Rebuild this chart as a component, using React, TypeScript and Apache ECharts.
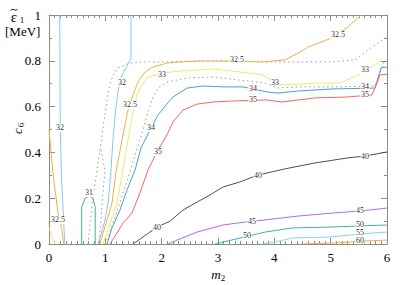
import React, { useEffect, useRef } from "react";
import * as echarts from "echarts";

type Pt = [number, number];

// contour lines of epsilon_1 [MeV] in the (m2, c6) plane
const c31: Pt[] = [[0.58, 0], [0.58, 0.16], [0.64, 0.2], [0.72, 0.21], [0.78, 0.2], [0.82, 0.16], [0.82, 0]];
const c32a: Pt[] = [[0.19, 1], [0.2, 0.5], [0.22, 0.3], [0.28, 0]];
const c32b: Pt[] = [[1.455, 1], [1.455, 0.81], [1.4, 0.785], [1.3, 0.74], [1.23, 0.675], [1.19, 0.6], [1.15, 0.5], [1.12, 0.4], [1.1, 0.32], [1.05, 0.18], [0.99, 0.1], [0.91, 0.03], [0.87, 0]];
const c325a: Pt[] = [[0, 0.5], [0.07, 0.31], [0.16, 0.135], [0.23, 0.06], [0.26, 0]];
const c325b: Pt[] = [[0.905, 0], [0.96, 0.048], [1.118, 0.179], [1.189, 0.314], [1.296, 0.454], [1.402, 0.585], [1.491, 0.651], [1.58, 0.707], [1.704, 0.751], [1.846, 0.773], [2.095, 0.79], [2.325, 0.795], [2.68, 0.799], [3.213, 0.799], [3.799, 0.795], [4.189, 0.804], [4.455, 0.838], [4.597, 0.86], [5.023, 0.9], [5.307, 0.948], [5.538, 1]];
const c33a: Pt[] = [[0, 0.07], [0.107, 0]];
const c33b: Pt[] = [[0.959, 0], [1.03, 0.048], [1.207, 0.179], [1.314, 0.323], [1.402, 0.454], [1.491, 0.572], [1.562, 0.651], [1.615, 0.681], [1.74, 0.725], [2.006, 0.747], [2.325, 0.755], [2.911, 0.764], [3.39, 0.751], [3.799, 0.738], [4.012, 0.703], [4.189, 0.694], [4.722, 0.703], [5.165, 0.703], [5.55, 0.745], [5.9, 0.802]];
const c34: Pt[] = [[1.03, 0], [1.118, 0.07], [1.26, 0.148], [1.385, 0.236], [1.527, 0.323], [1.633, 0.419], [1.811, 0.507], [1.935, 0.563], [2.077, 0.607], [2.201, 0.642], [2.45, 0.681], [2.734, 0.69], [3.089, 0.686], [3.444, 0.686], [3.87, 0.664], [4.065, 0.659], [4.42, 0.668], [5.023, 0.677], [5.787, 0.681], [5.84, 0.725], [5.893, 0.769], [6, 0.773]];
const c35: Pt[] = [[1.083, 0], [1.207, 0.048], [1.314, 0.092], [1.473, 0.135], [1.615, 0.223], [1.757, 0.323], [1.935, 0.41], [2.112, 0.485], [2.201, 0.533], [2.379, 0.585], [2.627, 0.611], [2.911, 0.62], [3.213, 0.624], [3.87, 0.629], [4.136, 0.62], [4.722, 0.638], [5.307, 0.642], [5.733, 0.651], [5.822, 0.703], [5.875, 0.738], [6, 0.742]];
const c40: Pt[] = [[1.491, 0], [1.669, 0.031], [1.917, 0.074], [2.148, 0.1], [2.379, 0.148], [2.627, 0.183], [2.858, 0.214], [3.089, 0.249], [3.39, 0.271], [3.71, 0.301], [4.189, 0.328], [4.722, 0.354], [5.307, 0.376], [5.609, 0.384], [6, 0.402]];
const c45: Pt[] = [[2.112, 0], [2.272, 0.017], [2.627, 0.052], [3.089, 0.083], [3.603, 0.1], [3.834, 0.105], [4.42, 0.122], [5.023, 0.135], [5.52, 0.144], [6, 0.157]];
const c50: Pt[] = [[2.947, 0], [3.39, 0.026], [3.834, 0.052], [4.313, 0.07], [5.023, 0.074], [5.52, 0.079], [6, 0.083]];
const c55: Pt[] = [[3.781, 0], [4.012, 0.009], [4.313, 0.026], [5.023, 0.031], [5.52, 0.044], [6, 0.052]];
const c60: Pt[] = [[4.455, 0], [5.023, 0.004], [5.609, 0.013], [6, 0.017]];
// unlabelled dotted contours
const d1: Pt[] = [[0.692, 0], [0.728, 0.092], [0.781, 0.205], [0.87, 0.354], [0.941, 0.476], [1.012, 0.598], [1.065, 0.681], [1.136, 0.738], [1.225, 0.769], [1.438, 0.79], [1.615, 0.795], [2.024, 0.795], [2.627, 0.799], [3.213, 0.799], [3.799, 0.795], [4.42, 0.795], [5.023, 0.795], [5.432, 0.804], [5.662, 0.847], [5.964, 0.9]];
const d1b: Pt[] = [[0.923, 0.41], [0.994, 0.323], [0.941, 0.17], [0.905, 0.048], [0.888, 0]];
const d2: Pt[] = [[0.994, 0], [1.083, 0.052], [1.243, 0.17], [1.42, 0.301], [1.544, 0.402], [1.669, 0.498], [1.757, 0.576], [1.846, 0.642], [1.935, 0.681], [2.095, 0.707], [2.45, 0.725], [2.911, 0.729], [3.39, 0.716], [3.799, 0.703], [4.065, 0.681], [4.42, 0.686], [5.023, 0.686], [5.787, 0.69], [5.875, 0.747], [5.947, 0.795]];

// contour labels: [m2, c6, text]
const labelPts: [number, number, string][] = [
  [0.195, 0.507, "32"], [1.296, 0.707, "32"],
  [0.71, 0.223, "31"],
  [0.16, 0.105, "32.5"], [1.438, 0.607, "32.5"], [3.337, 0.804, "32.5"], [5.13, 0.913, "32.5"],
  [2.006, 0.738, "33"], [4.012, 0.707, "33"], [5.609, 0.76, "33"],
  [1.811, 0.507, "34"], [3.62, 0.681, "34"], [5.609, 0.688, "34"],
  [1.935, 0.402, "35"], [3.62, 0.629, "35"], [5.609, 0.655, "35"],
  [1.917, 0.074, "40"], [3.71, 0.301, "40"], [5.609, 0.384, "40"],
  [3.603, 0.1, "45"], [5.52, 0.148, "45"],
  [3.515, 0.039, "50"], [5.52, 0.085, "50"],
  [5.52, 0.05, "55"],
  [5.52, 0.017, "60"],
];

const xTicks = [0, 6, 1];
const yTicks = [0, 1, 0.2];

const lines: { pts: Pt[]; color: string; dotted?: boolean }[] = [
  { pts: d1, color: "#9a9a9a", dotted: true },
  { pts: d1b, color: "#9a9a9a", dotted: true },
  { pts: d2, color: "#9a9a9a", dotted: true },
  { pts: c31, color: "#3bb48c" },
  { pts: c32a, color: "#86c8ee" },
  { pts: c32b, color: "#86c8ee" },
  { pts: c325a, color: "#eeb247" },
  { pts: c325b, color: "#eeb247" },
  { pts: c33a, color: "#f2e66a" },
  { pts: c33b, color: "#f2e66a" },
  { pts: c34, color: "#4c9fd6" },
  { pts: c35, color: "#ee6a60" },
  { pts: c40, color: "#505050" },
  { pts: c45, color: "#b36ae6" },
  { pts: c50, color: "#3dba95" },
  { pts: c55, color: "#92d0f0" },
  { pts: c60, color: "#eeb247" },
];

const AX = "#8c8c8c";
const FONT = "Liberation Serif";

function axis(kind: "x" | "y", pos: string, labels: boolean, t: number[]) {
  return {
    type: "value",
    position: pos,
    min: t[0],
    max: t[1],
    interval: t[2],
    axisLine: { show: true, onZero: false, lineStyle: { color: AX, width: 1 } },
    axisTick: { show: true, inside: true, length: 6, lineStyle: { color: AX } },
    minorTick: { show: true, splitNumber: kind === "x" ? 10 : 2, length: 3, lineStyle: { color: AX } },
    splitLine: { show: false },
    axisLabel: {
      show: labels,
      color: "#000",
      fontFamily: FONT,
      fontSize: 13,
      margin: kind === "x" ? 7 : 8,
    },
  };
}

function txt(x: number, y: number, text: string, size: number, opts: any = {}) {
  return {
    type: "text",
    x,
    y,
    rotation: opts.rotation || 0,
    style: {
      text,
      fontFamily: FONT,
      fontSize: size,
      fontStyle: opts.italic ? "italic" : "normal",
      fill: "#000",
      align: opts.align || "center",
      verticalAlign: "middle",
    },
  };
}

export default function App() {
  const ref = useRef<HTMLDivElement>(null);
  useEffect(() => {
    if (!ref.current) return;
    const chart = echarts.init(ref.current, undefined, { renderer: "svg" });
    const series: any[] = lines.map((l) => ({
      type: "line",
      data: l.pts,
      showSymbol: false,
      symbol: "none",
      silent: true,
      clip: true,
      z: 2,
      lineStyle: { color: l.color, width: 1, type: l.dotted ? [1.5, 3] : "solid" },
    }));
    series.push({
      type: "custom",
      data: labelPts,
      silent: true,
      z: 10,
      encode: { x: 0, y: 1 },
      renderItem: (params: any, api: any) => {
        const p = api.coord([api.value(0), api.value(1)]);
        return {
          type: "text",
          x: p[0],
          y: p[1],
          rotation: 0.0005,
          style: {
            text: labelPts[params.dataIndex][2],
            fill: "#222",
            opacity: 0.99,
            fontFamily: FONT,
            fontSize: 8,
            align: "center",
            verticalAlign: "middle",
            backgroundColor: "#ffffff",
            padding: [0, 0.5],
          },
        };
      },
    });
    chart.setOption({
      animation: false,
      backgroundColor: "#fff",
      grid: { left: 49, right: 20, top: 15, bottom: 41, containLabel: false },
      xAxis: [axis("x", "bottom", true, xTicks), axis("x", "top", false, xTicks)],
      yAxis: [axis("y", "left", true, yTicks), axis("y", "right", false, yTicks)],
      series,
      graphic: [
        {
          type: "bezierCurve",
          shape: { x1: 10.5, y1: 10.5, cpx1: 12.5, cpy1: 7.5, cpx2: 15.5, cpy2: 12, x2: 17.5, y2: 9 },
          style: { stroke: "#000", lineWidth: 0.9, fill: null },
        },
        txt(14, 17, "ε", 15),
        txt(22, 19.5, "1", 9),
        txt(5, 31, "[MeV]", 13, { align: "left" }),
        txt(216, 274, "m", 13, { italic: true }),
        txt(223, 278, "2", 9),
        txt(17, 131, "c", 13, { italic: true, rotation: Math.PI / 2 }),
        txt(21, 125, "6", 9, { rotation: Math.PI / 2 }),
      ],
    });
    return () => chart.dispose();
  }, []);
  return <div ref={ref} style={{ position: "fixed", left: 0, top: 0, width: 407, height: 285, background: "#fff" }} />;
}
